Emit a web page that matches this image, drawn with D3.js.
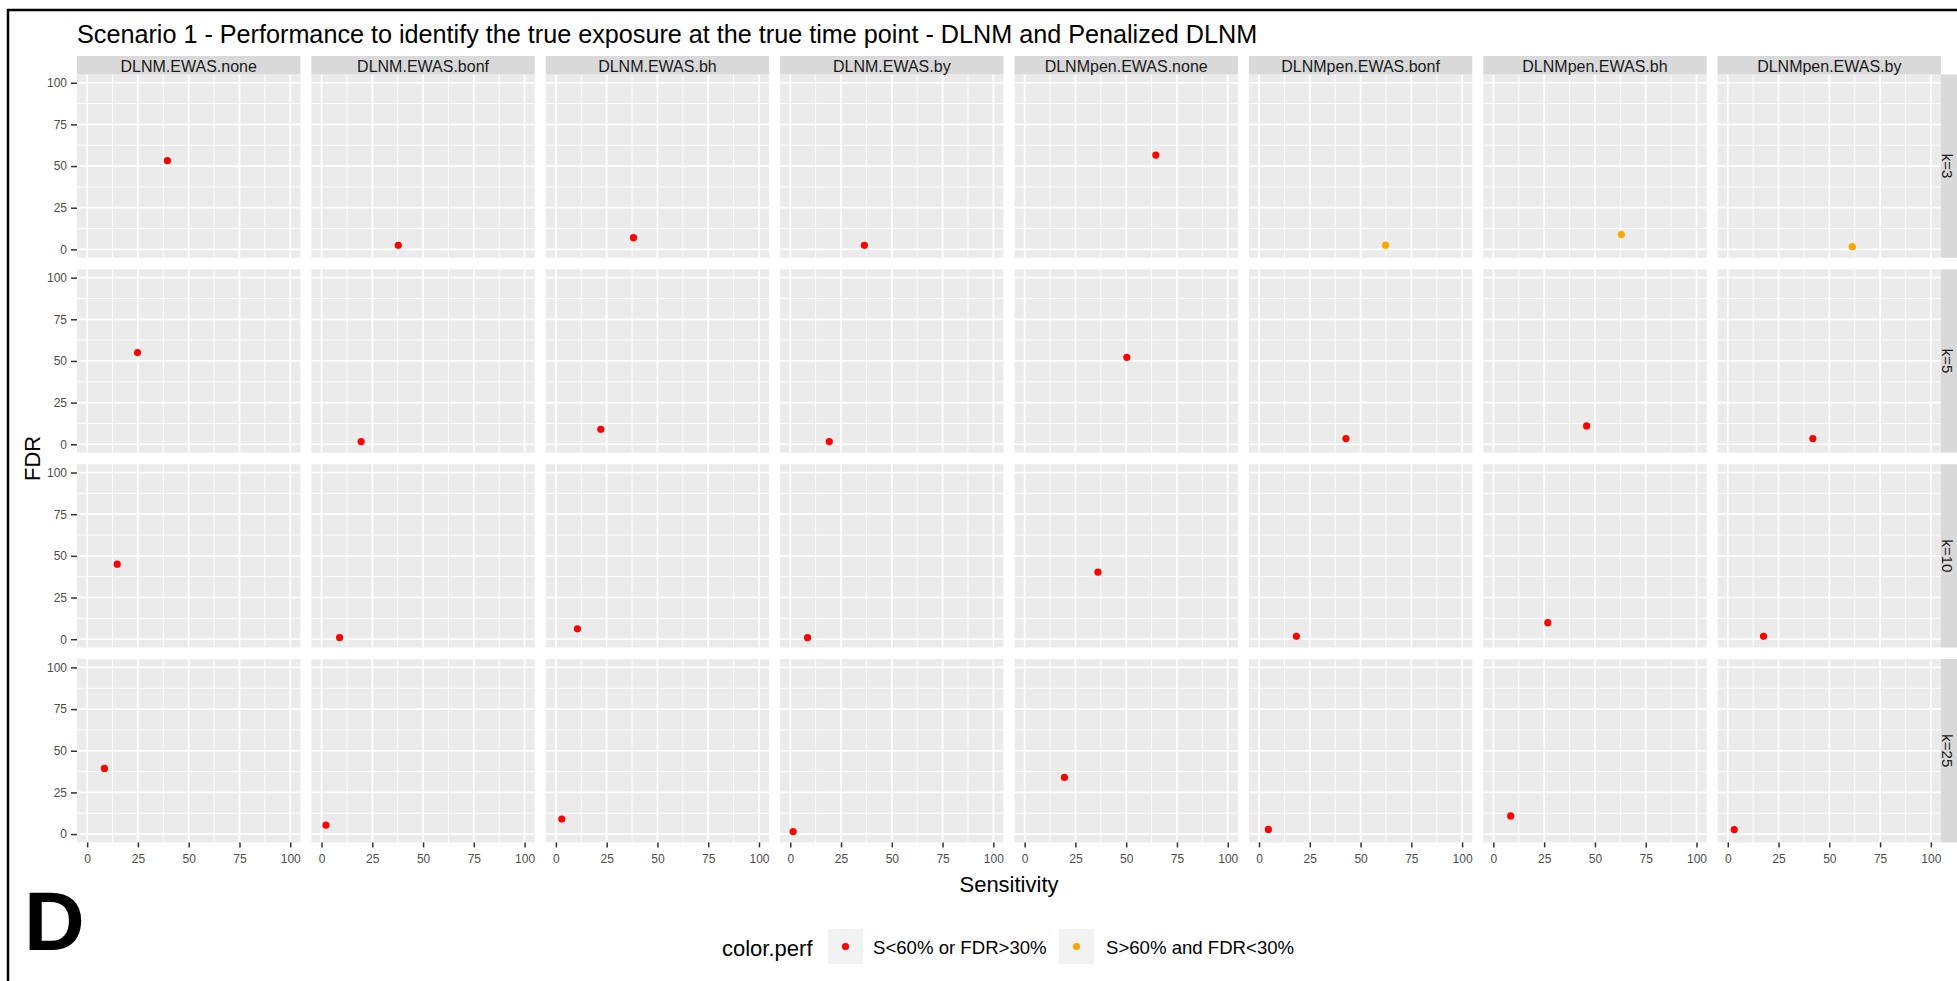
<!DOCTYPE html>
<html>
<head>
<meta charset="utf-8">
<script src="https://cdn.jsdelivr.net/npm/d3@7"></script>
<style>
  html, body { margin: 0; padding: 0; background: #ffffff; }
  svg { display: block; font-family: "Liberation Sans", Arial, sans-serif; }
</style>
</head>
<body>
<svg id="chart" width="1957" height="981"></svg>
<script>
// Facet columns (methods) and rows (number of knots)
const methods = [
  "DLNM.EWAS.none", "DLNM.EWAS.bonf", "DLNM.EWAS.bh", "DLNM.EWAS.by",
  "DLNMpen.EWAS.none", "DLNMpen.EWAS.bonf", "DLNMpen.EWAS.bh", "DLNMpen.EWAS.by"
];
const kLevels = ["k=3", "k=5", "k=10", "k=25"];

// Sensitivity (%) and FDR (%) per method, one pair of arrays per k
const sensK3  = [39.5, 37.8, 38.2, 36.5, 64.6, 62.3, 63.0, 61.3];
const fdrK3   = [53.2,  2.4,  7.0,  2.4, 56.6,  2.5,  8.9,  1.6];
const sensK5  = [24.8, 19.5, 22.1, 19.2, 50.3, 42.8, 45.9, 41.9];
const fdrK5   = [55.0,  1.6,  9.0,  1.6, 52.2,  3.4, 11.0,  3.4];
const sensK10 = [14.8,  8.9, 10.6,  8.5, 36.1, 18.4, 26.8, 17.6];
const fdrK10  = [45.0,  1.0,  6.2,  0.9, 40.2,  1.7,  9.9,  1.7];
const sensK25 = [ 8.5,  2.2,  2.9,  1.4, 19.6,  4.6,  8.5,  3.2];
const fdrK25  = [39.4,  5.4,  9.0,  1.5, 34.0,  2.8, 10.9,  2.7];

const sensByK = [sensK3, sensK5, sensK10, sensK25];
const fdrByK  = [fdrK3, fdrK5, fdrK10, fdrK25];

// Axis ticks and legend
const majorTicks = [0, 25, 50, 75, 100];
const minorTicks = [12.5, 37.5, 62.5, 87.5];
const perfLevels = ["S<60% or FDR>30%", "S>60% and FDR<30%"];
const perfColors = ["#FF0000", "#FFA500"];

const titleText = "Scenario 1 - Performance to identify the true exposure at the true time point - DLNM and Penalized DLNM";

// Build long-format records
const records = [];
kLevels.forEach((k, i) => {
  methods.forEach((m, j) => {
    const s = sensByK[i][j], f = fdrByK[i][j];
    records.push({ k, method: m, sens: s, fdr: f,
      perf: (s > 60 && f < 30) ? perfLevels[1] : perfLevels[0] });
  });
});

const svg = d3.select("#chart");
svg.append("rect").attr("width", 1957).attr("height", 981).attr("fill", "#ffffff");

// Panel layout
const col = d3.scaleBand().domain(methods).range([77, 1941]).paddingInner(0.0469).paddingOuter(0);
const row = d3.scaleBand().domain(kLevels).range([74.4, 842.4]).paddingInner(0.0595).paddingOuter(0);
const pw = col.bandwidth(), ph = row.bandwidth();
const x = d3.scaleLinear().domain([-5, 105]).range([0, pw]);
const y = d3.scaleLinear().domain([-5, 105]).range([ph, 0]);
const color = d3.scaleOrdinal().domain(perfLevels).range(perfColors);

// Panels
kLevels.forEach(k => {
  methods.forEach(m => {
    const g = svg.append("g").attr("transform", `translate(${col(m)},${row(k)})`);
    g.append("rect").attr("width", pw).attr("height", ph).attr("fill", "#EBEBEB");
    // minor grid
    g.selectAll(".vmin").data(minorTicks).join("line")
      .attr("x1", d => x(d)).attr("x2", d => x(d)).attr("y1", 0).attr("y2", ph)
      .attr("stroke", "#ffffff").attr("stroke-width", 0.9);
    g.selectAll(".hmin").data(minorTicks).join("line")
      .attr("y1", d => y(d)).attr("y2", d => y(d)).attr("x1", 0).attr("x2", pw)
      .attr("stroke", "#ffffff").attr("stroke-width", 0.9);
    // major grid
    g.selectAll(".vmaj").data(majorTicks).join("line")
      .attr("x1", d => x(d)).attr("x2", d => x(d)).attr("y1", 0).attr("y2", ph)
      .attr("stroke", "#ffffff").attr("stroke-width", 1.7);
    g.selectAll(".hmaj").data(majorTicks).join("line")
      .attr("y1", d => y(d)).attr("y2", d => y(d)).attr("x1", 0).attr("x2", pw)
      .attr("stroke", "#ffffff").attr("stroke-width", 1.7);
    // points
    g.selectAll("circle").data(records.filter(r => r.k === k && r.method === m)).join("circle")
      .attr("cx", d => x(d.sens)).attr("cy", d => y(d.fdr)).attr("r", 3.6)
      .attr("fill", d => color(d.perf));
  });
});

// Top strips
const stripH = 18.4;
methods.forEach(m => {
  const g = svg.append("g").attr("transform", `translate(${col(m)},${row(kLevels[0]) - stripH})`);
  g.append("rect").attr("width", pw).attr("height", stripH).attr("fill", "#D9D9D9");
  g.append("text").attr("x", pw / 2).attr("y", 15.5).attr("text-anchor", "middle")
    .attr("font-size", 16).attr("fill", "#1A1A1A").text(m);
});

// Right strips
const stripX = col.range()[1];
kLevels.forEach(k => {
  const g = svg.append("g").attr("transform", `translate(${stripX},${row(k)})`);
  g.append("rect").attr("width", 20).attr("height", ph).attr("fill", "#D9D9D9");
  g.append("text").attr("transform", `translate(6.5,${ph / 2}) rotate(90)`)
    .attr("text-anchor", "middle").attr("dominant-baseline", "central")
    .attr("font-size", 15).attr("fill", "#1A1A1A").text(k);
});

// Axes
function styleAxis(sel) {
  sel.select(".domain").remove();
  sel.selectAll(".tick line").attr("stroke", "#333333").attr("stroke-width", 1.5);
  sel.selectAll(".tick text").attr("fill", "#4D4D4D").attr("font-size", 12)
    .attr("font-family", "'Liberation Sans', Arial, sans-serif");
}
kLevels.forEach(k => {
  svg.append("g").attr("transform", `translate(${col.range()[0]},${row(k)})`)
    .call(d3.axisLeft(y).tickValues(majorTicks).tickSize(6).tickPadding(4))
    .call(styleAxis);
});
methods.forEach(m => {
  svg.append("g").attr("transform", `translate(${col(m)},${row.range()[1]})`)
    .call(d3.axisBottom(x).tickValues(majorTicks).tickSize(5).tickPadding(7))
    .call(styleAxis);
});

// Axis titles
svg.append("text").attr("x", (col.range()[0] + col.range()[1]) / 2).attr("y", 892)
  .attr("text-anchor", "middle").attr("font-size", 22).attr("fill", "#000").text("Sensitivity");
svg.append("text").attr("transform", `translate(40,${(row.range()[0] + row.range()[1]) / 2}) rotate(-90)`)
  .attr("text-anchor", "middle").attr("font-size", 22).attr("fill", "#000").text("FDR");

// Title
svg.append("text").attr("x", 77).attr("y", 43).attr("font-size", 25.2).attr("fill", "#000").text(titleText);

// Legend
const lg = svg.append("g");
lg.append("text").attr("x", 722).attr("y", 956).attr("font-size", 22).attr("fill", "#000").text("color.perf");
const keyX = [828, 1059], labX = [873, 1106];
perfLevels.forEach((p, i) => {
  lg.append("rect").attr("x", keyX[i]).attr("y", 929).attr("width", 35).attr("height", 35).attr("fill", "#F2F2F2");
  lg.append("circle").attr("cx", keyX[i] + 17.5).attr("cy", 946.5).attr("r", 3.6).attr("fill", color(p));
  lg.append("text").attr("x", labX[i]).attr("y", 953.5).attr("font-size", 18.6).attr("fill", "#000").text(p);
});

// Panel letter and frame
svg.append("text").attr("x", 24).attr("y", 950).attr("font-size", 84).attr("font-weight", "bold")
  .attr("fill", "#000").text("D");
svg.append("line").attr("x1", 7).attr("x2", 1957).attr("y1", 10).attr("y2", 10)
  .attr("stroke", "#000").attr("stroke-width", 2.5);
svg.append("line").attr("x1", 8).attr("x2", 8).attr("y1", 9).attr("y2", 981)
  .attr("stroke", "#000").attr("stroke-width", 2.5);
</script>
</body>
</html>
